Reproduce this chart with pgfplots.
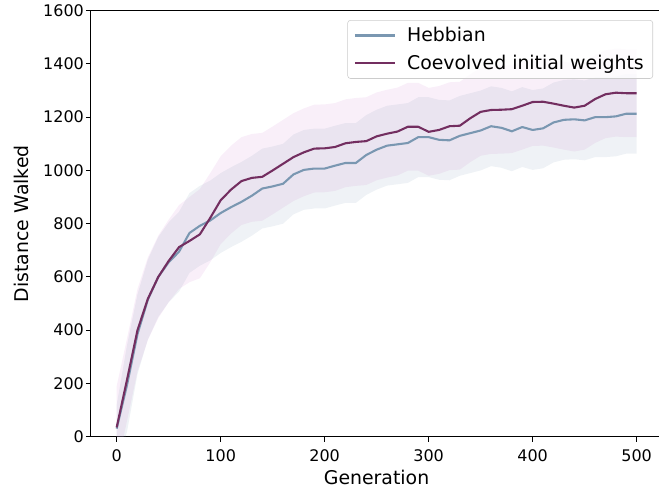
\documentclass[border=0pt]{standalone}
\usepackage{fontspec}
\setmainfont{DejaVu Sans}
\usepackage{pgfplots}
\pgfplotsset{compat=1.18}
\usepackage{pgfplotstable}
\usepgfplotslibrary{fillbetween}

\definecolor{hebb}{RGB}{122,151,177}
\definecolor{coev}{RGB}{115,46,96}
\definecolor{coevfill}{RGB}{221,160,221}

% mean, upper and lower edge of the band for each run type
\pgfplotstableread{
x hm hu hl cm cu cl
0 30 120 -120 35 190 -120
10 195 345 20 215 370 60
20 385 535 235 400 555 245
30 515 665 365 518 673 363
40 600 750 450 600 755 445
50 655 805 505 660 815 505
60 695 845 545 712 870 555
70 765 915 615 735 900 580
80 792 942 642 760 930 595
90 812 962 662 822 990 655
100 840 990 690 888 1053 723
110 862 1012 712 928 1093 763
120 882 1032 732 960 1125 795
130 905 1055 755 972 1137 807
140 932 1082 782 976 1141 811
150 940 1090 790 1000 1165 835
160 950 1100 800 1025 1190 860
170 985 1135 835 1050 1215 885
180 1002 1152 852 1068 1233 903
190 1007 1157 857 1082 1247 917
200 1007 1157 857 1083 1248 918
210 1018 1168 868 1088 1253 923
220 1028 1178 878 1102 1267 937
230 1028 1178 878 1107 1272 942
240 1058 1208 908 1110 1275 945
250 1078 1228 928 1128 1293 963
260 1093 1243 943 1138 1303 973
270 1098 1248 948 1146 1311 981
280 1103 1253 953 1164 1329 999
290 1125 1275 975 1164 1329 999
300 1125 1275 975 1145 1310 980
310 1115 1265 965 1152 1317 987
320 1113 1263 963 1166 1331 1001
330 1130 1280 980 1168 1333 1003
340 1140 1290 990 1196 1361 1031
350 1150 1300 1000 1220 1385 1055
360 1166 1316 1016 1227 1392 1062
370 1160 1310 1010 1228 1393 1063
380 1147 1297 997 1230 1395 1065
390 1163 1313 1013 1243 1408 1078
400 1152 1302 1002 1257 1422 1092
410 1158 1308 1008 1258 1423 1093
420 1180 1330 1030 1251 1416 1086
430 1190 1340 1040 1243 1408 1078
440 1192 1342 1042 1236 1401 1071
450 1188 1338 1038 1243 1408 1078
460 1200 1350 1050 1268 1433 1103
470 1200 1350 1050 1286 1451 1121
480 1203 1353 1053 1292 1457 1127
490 1213 1363 1063 1290 1455 1125
500 1213 1363 1063 1290 1455 1125
}\runs

\begin{document}
\begin{tikzpicture}
\begin{axis}[name=ax,
  scale only axis, width=409.2pt, height=306.7pt,
  xmin=-25, xmax=521.5, ymin=0, ymax=1600,
  axis x line*=box, axis y line*=left,
  xtick pos=left, ytick pos=left,
  xtick={0,100,...,500}, ytick={0,200,...,1600},
  tick align=outside, major tick length=3.5pt,
  tick style={black, line width=0.8pt},
  axis line style={line width=0.8pt},
  /pgf/number format/assume math mode=true,
  /pgf/number format/1000 sep={},
  ticklabel style={font=\fontsize{11.5}{13}\selectfont},
  xticklabel style={anchor=base, yshift=-14.2pt},
  yticklabel style={anchor=east, inner sep=0pt, xshift=-1.2pt},
  xlabel={Generation}, ylabel={Distance Walked},
  label style={font=\fontsize{13.6}{16}\selectfont},
  xlabel style={at={(axis description cs:0.503,-0.1122)}, anchor=base},
  ylabel style={at={(axis description cs:-0.1098,0.5)}, rotate=0, anchor=base},
  legend style={at={(0.9895,0.978)}, anchor=north east,
    font=\fontsize{13.6}{16}\selectfont, draw=black!20, rounded corners=2pt,
    fill=white, fill opacity=0.8, text opacity=1, draw opacity=1,
    inner xsep=4.5pt, inner ysep=3pt, row sep=4.2pt,
    /tikz/every odd column/.append style={column sep=6pt}},
  legend cell align=left,
  legend image code/.code={\draw[#1, line width=1.5pt] (0pt,0pt) -- (28.8pt,0pt);},
]
\addplot[draw=none, name path=hu, forget plot] table[x=x, y=hu] {\runs};
\addplot[draw=none, name path=hl, forget plot] table[x=x, y=hl] {\runs};
\addplot[draw=none, name path=cu, forget plot] table[x=x, y=cu] {\runs};
\addplot[draw=none, name path=cl, forget plot] table[x=x, y=cl] {\runs};
\addplot[coevfill, fill opacity=0.17, forget plot] fill between[of=cu and cl];
\addplot[hebb, fill opacity=0.12, forget plot] fill between[of=hu and hl];
\addplot[hebb, line width=1.5pt, line join=round] table[x=x, y=hm] {\runs};
\addlegendentry{Hebbian}
\addplot[coev, line width=1.5pt, line join=round] table[x=x, y=cm] {\runs};
\addlegendentry{Coevolved initial weights}
\end{axis}
\pgfresetboundingbox
\path[use as bounding box] ([shift={(-65.3pt,-41.3pt)}]ax.south west) rectangle ([shift={(0pt,7.7pt)}]ax.north east);
\end{tikzpicture}
\end{document}
